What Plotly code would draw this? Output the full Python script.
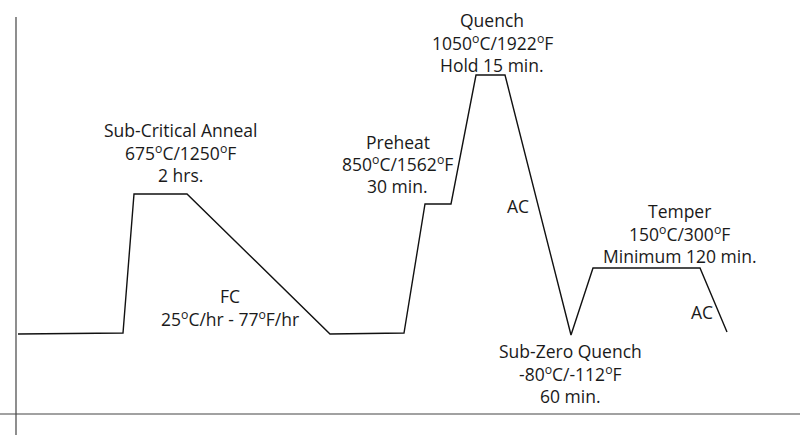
import plotly.graph_objects as go

# Schematic heat-treatment profile (time units, level units above the baseline axis)
time_pts = [18, 123, 134, 187, 330, 404, 425, 451, 476, 505, 571, 593, 700, 727]
level_pts = [80, 81, 220, 220, 80, 81, 210, 210, 339, 339, 79, 146, 146, 82]

label_lines = [
    ["Sub-Critical Anneal", "675<sup>o</sup>C/1250<sup>o</sup>F", "2 hrs."],
    ["Preheat", "850<sup>o</sup>C/1562<sup>o</sup>F", "30 min."],
    ["Quench", "1050<sup>o</sup>C/1922<sup>o</sup>F", "Hold 15 min."],
    ["AC"],
    ["FC", "25<sup>o</sup>C/hr - 77<sup>o</sup>F/hr"],
    ["Temper", "150<sup>o</sup>C/300<sup>o</sup>F", "Minimum 120 min."],
    ["AC"],
    ["Sub-Zero Quench", "-80<sup>o</sup>C/-112<sup>o</sup>F", "60 min."],
]
label_x = [180, 397.5, 492, 517.5, 230, 679.5, 701.5, 570]
label_y_first = [284, 272.5, 394, 208, 118, 203, 102, 63]
LINE_STEP = 22.3

fig = go.Figure()
fig.add_trace(go.Scatter(
    x=time_pts, y=level_pts, mode="lines",
    line=dict(color="#111111", width=1.4),
    hoverinfo="skip", showlegend=False,
))

for lines, x, y0 in zip(label_lines, label_x, label_y_first):
    for i, t in enumerate(lines):
        fig.add_annotation(
            x=x, y=y0 - i * LINE_STEP, xref="x", yref="y", text=t, showarrow=False,
            xanchor="center", yanchor="middle", align="center",
            font=dict(family="Open Sans", size=17.5, color="#1a1a1a"),
        )

# axis lines
fig.add_shape(type="line", xref="x", yref="y", x0=16, x1=16, y0=397, y1=-21,
              line=dict(color="#444444", width=1.2))
fig.add_shape(type="line", xref="x", yref="y", x0=0, x1=800, y0=0, y1=0,
              line=dict(color="#444444", width=1.2))

fig.update_layout(
    width=800, height=435,
    margin=dict(l=0, r=0, t=0, b=0),
    paper_bgcolor="white", plot_bgcolor="white",
    xaxis=dict(range=[0, 800], visible=False, fixedrange=True),
    yaxis=dict(range=[-21, 414], visible=False, fixedrange=True),
    hovermode=False,
)

fig.write_html("out.html", config={"displayModeBar": False, "staticPlot": True},
               post_script="document.body.style.margin='0';")
